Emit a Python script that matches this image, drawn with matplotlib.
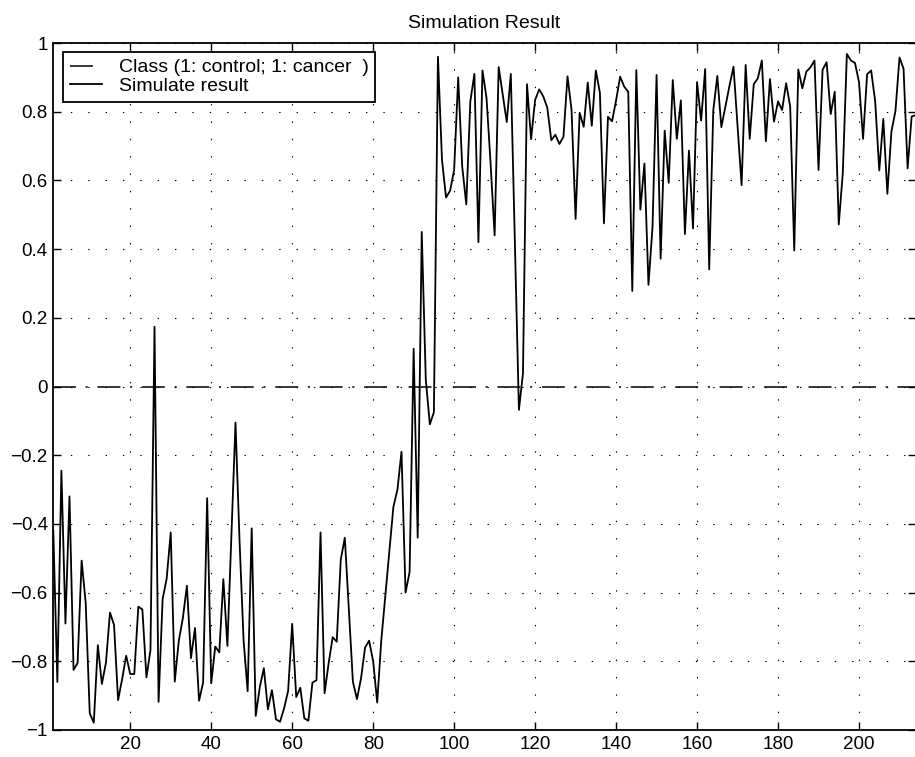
import numpy as np
import matplotlib
matplotlib.use("Agg")
import matplotlib.pyplot as plt
from matplotlib.ticker import FixedLocator

plt.rcParams["font.family"] = ["Liberation Sans", "DejaVu Sans"]
plt.rcParams["lines.scale_dashes"] = False

# simulated output, one value per sample
sim_result = [
    -0.42, -0.86, -0.245, -0.69, -0.32, -0.825, -0.805, -0.507, -0.63, -0.951,
    -0.979, -0.753, -0.866, -0.804, -0.658, -0.694, -0.913, -0.852, -0.784, -0.837,
    -0.837, -0.641, -0.649, -0.847, -0.767, 0.174, -0.918, -0.619, -0.559, -0.425,
    -0.859, -0.74, -0.674, -0.58, -0.791, -0.703, -0.915, -0.862, -0.325, -0.864,
    -0.757, -0.774, -0.561, -0.755, -0.43, -0.105, -0.45, -0.74, -0.887, -0.413,
    -0.959, -0.875, -0.82, -0.94, -0.884, -0.969, -0.976, -0.937, -0.886, -0.691,
    -0.904, -0.877, -0.966, -0.973, -0.862, -0.855, -0.425, -0.893, -0.806, -0.73,
    -0.743, -0.504, -0.44, -0.65, -0.86, -0.91, -0.85, -0.76, -0.74, -0.80,
    -0.92, -0.74, -0.61, -0.48, -0.35, -0.30, -0.19, -0.60, -0.54, 0.11,
    -0.44, 0.45, 0.02, -0.11, -0.075, 0.96, 0.66, 0.55, 0.57, 0.63,
    0.90, 0.64, 0.53, 0.83, 0.91, 0.42, 0.92, 0.84, 0.65, 0.44,
    0.93, 0.85, 0.77, 0.91, 0.42, -0.068, 0.038, 0.88, 0.72, 0.834,
    0.865, 0.845, 0.812, 0.717, 0.733, 0.706, 0.727, 0.903, 0.805, 0.488,
    0.797, 0.756, 0.885, 0.759, 0.92, 0.855, 0.475, 0.785, 0.772, 0.833,
    0.902, 0.873, 0.858, 0.278, 0.921, 0.515, 0.649, 0.296, 0.465, 0.907,
    0.372, 0.745, 0.593, 0.892, 0.721, 0.833, 0.444, 0.687, 0.46, 0.886,
    0.774, 0.924, 0.341, 0.803, 0.904, 0.755, 0.815, 0.875, 0.931, 0.76,
    0.586, 0.936, 0.721, 0.88, 0.897, 0.949, 0.714, 0.895, 0.771, 0.83,
    0.805, 0.883, 0.815, 0.396, 0.923, 0.868, 0.917, 0.929, 0.949, 0.63,
    0.922, 0.944, 0.793, 0.858, 0.472, 0.623, 0.968, 0.949, 0.942, 0.886,
    0.721, 0.909, 0.92, 0.829, 0.629, 0.779, 0.561, 0.742, 0.802, 0.958,
    0.925, 0.635, 0.786, 0.79,
]
class_level = [0.0, 0.0]  # decision boundary drawn across the whole range

x_ticks = [20, 40, 60, 80, 100, 120, 140, 160, 180, 200]
y_ticks = [-1, -0.8, -0.6, -0.4, -0.2, 0, 0.2, 0.4, 0.6, 0.8, 1]
y_labels = ["\u22121", "\u22120.8", "\u22120.6", "\u22120.4", "\u22120.2", "0",
            "0.2", "0.4", "0.6", "0.8", "1"]

samples = np.arange(1, len(sim_result) + 1)

fig = plt.figure(figsize=(9.15, 7.57), dpi=100)
ax = fig.add_axes([53.3 / 915, 1 - 730 / 757, 862.4 / 915, 687 / 757])

fs = 14
ax.plot([samples[0], samples[-1]], class_level, color="k", lw=1.1,
        linestyle=(0, (16.5, 7, 1.5, 7)), label="Class (1: control; 1: cancer  )")
ax.plot(samples, sim_result, color="k", lw=1.3, label="Simulate result")

ax.set_xlim(1, 214)
ax.set_ylim(-1, 1)
ax.xaxis.set_major_locator(FixedLocator(x_ticks))
ax.set_yticks(y_ticks)
ax.set_yticklabels(y_labels)
ax.tick_params(direction="in", length=6, width=1.0, labelsize=13.5, pad=4,
               top=True, right=True)
ax.grid(True, color="k", linestyle=(0, (1, 11.5)), linewidth=0.8)
for sp in ax.spines.values():
    sp.set_linewidth(1.3)

ax.set_title("Simulation Result", fontsize=fs, pad=11)

leg = ax.legend(loc="upper left", bbox_to_anchor=(10 / 862.4, 1 - 9 / 687),
                borderaxespad=0, fontsize=fs, handlelength=1.65,
                handletextpad=0.85, labelspacing=0.05, borderpad=0.35,
                fancybox=False, framealpha=1)
leg.get_frame().set_edgecolor("k")
leg.get_frame().set_linewidth(1.3)

fig.savefig("out.png", dpi=100)
